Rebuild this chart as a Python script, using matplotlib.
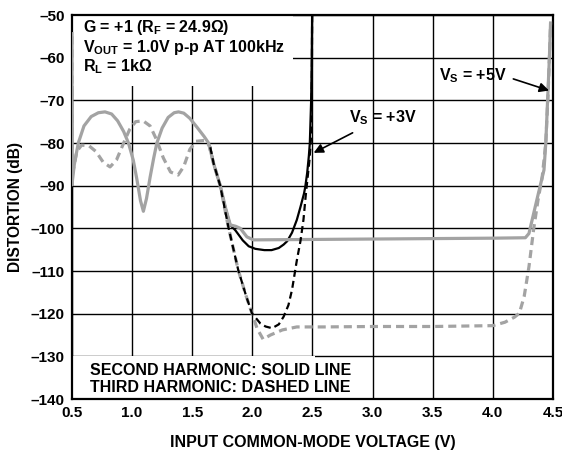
import matplotlib
matplotlib.use("Agg")
import matplotlib.pyplot as plt
from matplotlib.patches import Rectangle

# --- 字型設定 ---
plt.rcParams['font.family'] = ['Liberation Sans', 'DejaVu Sans']
plt.rcParams['font.weight'] = 'bold'
plt.rcParams['mathtext.fontset'] = 'custom'
plt.rcParams['mathtext.rm'] = 'Liberation Sans:bold'
plt.rcParams['mathtext.it'] = 'Liberation Sans:bold'
plt.rcParams['mathtext.bf'] = 'Liberation Sans:bold'
plt.rcParams['mathtext.default'] = 'rm'
plt.rcParams['lines.scale_dashes'] = False

# --- 資料 ---
# Vs = +5V, second harmonic (gray solid)
x5_2nd = [0.5, 0.5, 0.52, 0.553, 0.6, 0.66, 0.72, 0.775, 0.83, 0.88, 0.93, 0.97, 1.01, 1.04,
          1.07, 1.094, 1.12, 1.15, 1.18, 1.206, 1.25, 1.3, 1.35, 1.386, 1.43, 1.48, 1.54, 1.6,
          1.636, 1.678, 1.733, 1.78, 1.817, 1.86, 1.9, 1.955, 2.01, 2.5, 3.0, 3.5, 4.0, 4.27,
          4.3, 4.36, 4.425, 4.44, 4.455, 4.47, 4.48]
y5_2nd = [-54, -89.8, -85, -80, -76, -73.8, -72.9, -72.7, -73.2, -74.8, -77.3, -80, -84, -88.5,
          -93.5, -96, -93, -88, -83.5, -80, -76.5, -74, -72.9, -72.7, -73, -74.2, -76.3, -78.5,
          -80, -84.8, -90, -95.5, -99.2, -99.5, -100, -102, -102.7, -102.6, -102.5, -102.4,
          -102.3, -102.2, -101.2, -94, -86.3, -80, -70, -60, -51.5]

# Vs = +5V, third harmonic (gray dashed)
x5_3rd = [0.5, 0.5, 0.54, 0.58, 0.64, 0.7, 0.76, 0.817, 0.87, 0.93, 0.98, 1.03, 1.092, 1.15,
          1.2, 1.26, 1.32, 1.383, 1.43, 1.48, 1.53, 1.6, 1.64, 1.678, 1.733, 1.8, 1.883, 1.95,
          1.997, 2.04, 2.09, 2.15, 2.25, 2.37, 2.6, 3.0, 3.5, 4.0, 4.1, 4.18, 4.22, 4.26, 4.3,
          4.34, 4.375, 4.41, 4.44, 4.46, 4.48]
y5_3rd = [-55, -88, -82, -80.5, -80.6, -82, -84.5, -85.6, -84, -80, -76.8, -75, -74.8, -76,
          -79, -83.5, -86.8, -87.5, -85.5, -81.5, -79.6, -79.4, -80.5, -84.8, -90, -99.6,
          -109.8, -116, -119.9, -123.5, -126, -125, -123.8, -123.1, -123.1, -123.0, -123.0,
          -122.8, -122, -120.8, -119.9, -116, -109, -100, -93.4, -88, -80, -68, -52]

# Vs = +3V, second harmonic (black solid)
x3_2nd = [1.65, 1.678, 1.733, 1.78, 1.817, 1.86, 1.92, 1.97, 2.025, 2.1, 2.16, 2.22, 2.26,
          2.29, 2.33, 2.37, 2.4, 2.43, 2.44, 2.456, 2.47, 2.478, 2.489, 2.494, 2.497]
y3_2nd = [-81, -84.8, -90, -95.5, -99.2, -100.5, -102.8, -104.2, -104.8, -105.1, -105.1,
          -104.6, -103.8, -103, -101, -98, -95, -91.8, -90.3, -87, -83, -80, -70, -60, -50]

# Vs = +3V, third harmonic (black dashed)
x3_3rd = [1.65, 1.678, 1.733, 1.8, 1.883, 1.95, 1.997, 2.067, 2.11, 2.164, 2.22, 2.26, 2.3,
          2.33, 2.37, 2.4, 2.425, 2.445, 2.46, 2.475, 2.49, 2.495, 2.497]
y3_3rd = [-81, -84.8, -90, -99.6, -109.8, -116, -119.9, -122.3, -123, -123.4, -122.5, -120.7,
          -118, -114.4, -107.5, -103, -98, -92, -88, -84, -78, -65, -50]

x_ticks = [0.5, 1.0, 1.5, 2.0, 2.5, 3.0, 3.5, 4.0, 4.5]
y_ticks = [-50, -60, -70, -80, -90, -100, -110, -120, -130, -140]

gray = '#a3a3a3'

# --- 畫圖 ---
fig = plt.figure(figsize=(5.62, 4.55), dpi=100)
ax = fig.add_axes([0.128, 0.123, 0.856, 0.844])

ax.set_xlim(0.5, 4.5)
ax.set_ylim(-140, -50)
ax.set_xticks(x_ticks)
ax.set_xticklabels([f"{v:.1f}" for v in x_ticks], fontweight='bold')
ax.set_yticks(y_ticks)
ax.set_yticklabels([f"\u2013{abs(v)}" for v in y_ticks], fontweight='bold')
ax.tick_params(length=0, labelsize=11, pad=5)
ax.grid(True, color='black', linewidth=1.0, zorder=0)
ax.set_axisbelow(True)
for s in ax.spines.values():
    s.set_linewidth(1.6)

# 白色文字框遮住格線
ax.add_patch(Rectangle((0.5, -66.6), 1.84, 16.6, facecolor='white', edgecolor='none', zorder=1))
ax.add_patch(Rectangle((0.5, -140), 2.02, 10, facecolor='white', edgecolor='none', zorder=1))

ax.plot(x3_2nd, y3_2nd, color='black', linewidth=1.6, zorder=2.5)
ax.plot(x5_2nd, y5_2nd, color=gray, linewidth=2.3, solid_capstyle='butt', zorder=3)
ax.plot(x5_3rd, y5_3rd, color=gray, linewidth=2.3, dashes=(5.8, 3.6), zorder=3)
ax.plot(x3_3rd, y3_3rd, color='black', linewidth=1.6, dashes=(5.0, 3.0), zorder=4)

# 註解文字
fs = 11.5
ax.text(0.59, -53.0, "G = +1 (R$_{F}$ = 24.9Ω)", fontsize=fs, fontweight='bold', va='center', zorder=5)
ax.text(0.59, -57.5, "V$_{OUT}$ = 1.0V p-p AT 100kHz", fontsize=fs, fontweight='bold', va='center', zorder=5)
ax.text(0.59, -62.2, "R$_{L}$ = 1kΩ", fontsize=fs, fontweight='bold', va='center', zorder=5)

ax.text(0.65, -133.2, "SECOND HARMONIC: SOLID LINE", fontsize=fs, fontweight='bold', va='center', zorder=5)
ax.text(0.65, -137.4, "THIRD HARMONIC: DASHED LINE", fontsize=fs, fontweight='bold', va='center', zorder=5)

ax.annotate("V$_{S}$ = +3V", xy=(2.51, -82.3), xytext=(2.8, -74.1), fontsize=fs,
            fontweight='bold', va='center', zorder=5,
            arrowprops=dict(arrowstyle='-|>', color='black', lw=1.2,
                            mutation_scale=14, shrinkA=0, shrinkB=0,
                            relpos=(0.06, -0.3)))
ax.annotate("V$_{S}$ = +5V", xy=(4.467, -67.7), xytext=(3.55, -64.1), fontsize=fs,
            fontweight='bold', va='center', zorder=5,
            arrowprops=dict(arrowstyle='-|>', color='black', lw=1.2,
                            mutation_scale=14, shrinkA=0, shrinkB=0,
                            relpos=(1.1, 0.3)))

ax.set_xlabel("INPUT COMMON-MODE VOLTAGE (V)", fontsize=11.5, fontweight='bold', labelpad=11)
ax.set_ylabel("DISTORTION (dB)", fontsize=11.2, fontweight='bold', labelpad=6)

plt.savefig("out.png", dpi=100)
